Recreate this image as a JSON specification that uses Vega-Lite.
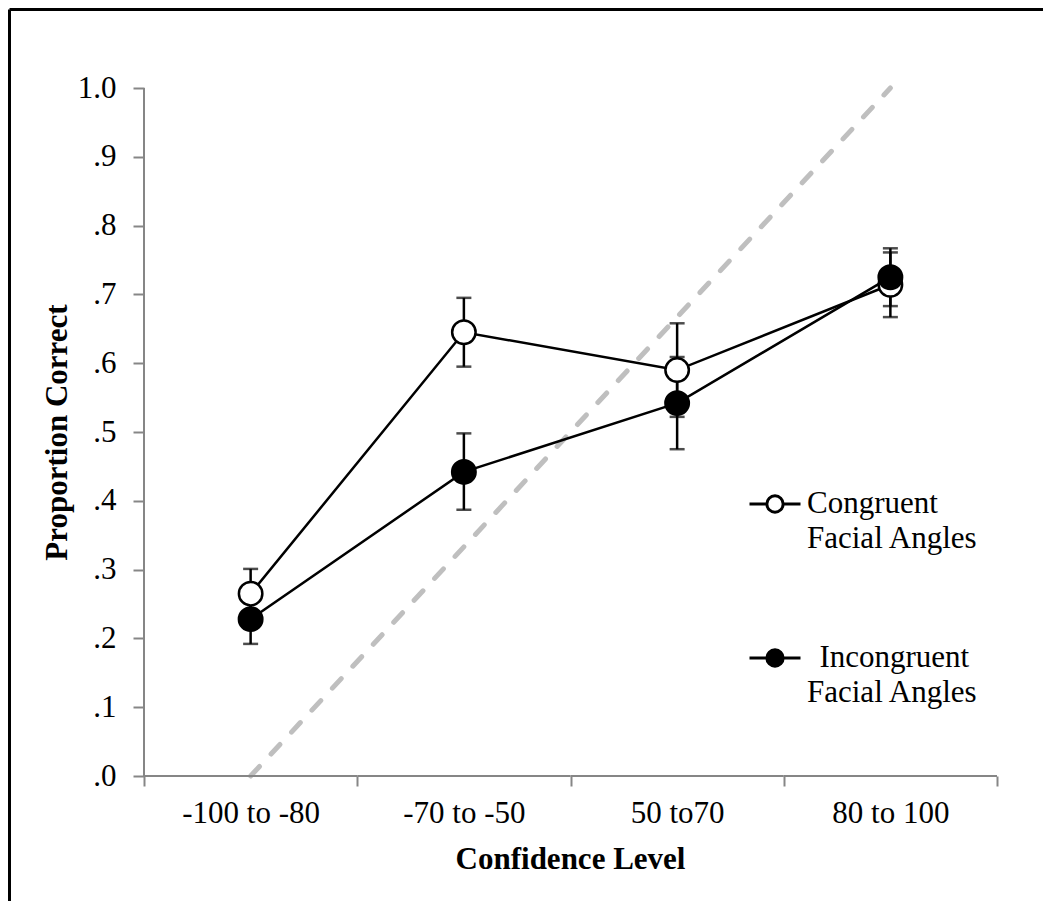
{
  "$schema": "https://vega.github.io/schema/vega-lite/v6.json",
  "width": 1034,
  "height": 892,
  "autosize": {"type": "none"},
  "padding": {"left": 9, "top": 9, "right": 0, "bottom": 0},
  "background": "white",
  "config": {"view": {"stroke": null}, "axis": {"grid": false}, "style": {"guide-label": {"lineHeight": 35}}},
  "datasets": {
    "diag": [
      {"cat": "-100 to -80", "value": 0},
      {"cat": "-70 to -50", "value": 0.333},
      {"cat": "50 to70", "value": 0.667},
      {"cat": "80 to 100", "value": 1}
    ],
    "first": [{"cat": "-100 to -80"}],
    "main": [
      {"series": "Congruent", "cat": "-100 to -80", "mean": 0.265, "lo": 0.229, "hi": 0.301},
      {"series": "Congruent", "cat": "-70 to -50", "mean": 0.645, "lo": 0.595, "hi": 0.695},
      {"series": "Congruent", "cat": "50 to70", "mean": 0.590, "lo": 0.522, "hi": 0.658},
      {"series": "Congruent", "cat": "80 to 100", "mean": 0.714, "lo": 0.667, "hi": 0.761},
      {"series": "Incongruent", "cat": "-100 to -80", "mean": 0.228, "lo": 0.192, "hi": 0.264},
      {"series": "Incongruent", "cat": "-70 to -50", "mean": 0.442, "lo": 0.387, "hi": 0.498},
      {"series": "Incongruent", "cat": "50 to70", "mean": 0.542, "lo": 0.475, "hi": 0.609},
      {"series": "Incongruent", "cat": "80 to 100", "mean": 0.725, "lo": 0.683, "hi": 0.767}
    ]
  },
  "layer": [
    {
      "data": {"name": "diag"},
      "mark": {"type": "line", "color": "#bfbfbf", "strokeWidth": 5, "strokeDash": [13, 17], "strokeCap": "round"},
      "encoding": {
        "x": {
          "field": "cat", "type": "nominal",
          "scale": {"type": "band", "domain": ["-100 to -80", "-70 to -50", "50 to70", "80 to 100"], "paddingInner": 0, "paddingOuter": 0.424385, "align": 0.74586},
          "axis": {
            "orient": "bottom", "offset": -125, "domain": false, "tickBand": "extent",
            "tickSize": 10, "tickWidth": 2, "tickColor": "#868686",
            "labelAngle": 0, "labelFont": "Liberation Serif", "labelFontSize": 31, "labelColor": "black", "labelPadding": 12,
            "title": "Confidence Level", "titleFont": "Liberation Serif", "titleFontSize": 31, "titleFontWeight": "bold", "titleColor": "black",
            "titleX": 561, "titleY": 92, "titleAlign": "center", "titleBaseline": "alphabetic"
          }
        },
        "y": {
          "field": "value", "type": "quantitative",
          "scale": {"domain": [-0.181686, 1.114826], "nice": false, "zero": false},
          "axis": {
            "orient": "left", "offset": -135, "domain": false,
            "values": [0, 0.1, 0.2, 0.3, 0.4, 0.5, 0.6, 0.7, 0.8, 0.9, 1.0],
            "tickSize": 11, "tickWidth": 2, "tickColor": "#868686",
            "labelFont": "Liberation Serif", "labelFontSize": 31, "labelColor": "black", "labelPadding": 17,
            "labelExpr": "datum.value >= 0.99 ? '1.0' : replace(format(datum.value, '.1f'), '0.', '.')",
            "title": "Proportion Correct", "titleFont": "Liberation Serif", "titleFontSize": 31, "titleFontWeight": "bold", "titleColor": "black",
            "titleAngle": -90, "titleX": -78, "titleY": 423, "titleAlign": "center", "titleBaseline": "alphabetic"
          }
        }
      }
    },
    {
      "data": {"name": "diag"},
      "mark": {"type": "rect", "fill": "#868686", "stroke": "#868686", "strokeWidth": 2},
      "encoding": {
        "x": {"field": "cat", "type": "nominal", "axis": {"orient": "top", "offset": 0, "domain": true, "domainColor": "black", "domainWidth": 3, "ticks": false, "labels": false, "title": null}},
        "y": {"datum": 0, "type": "quantitative", "axis": null},
        "y2": {"datum": 0}
      }
    },
    {
      "data": {"name": "first"},
      "mark": {"type": "rule", "color": "#868686", "strokeWidth": 2},
      "encoding": {
        "x": {"field": "cat", "type": "nominal", "bandPosition": 0, "axis": null},
        "y": {"datum": 0, "type": "quantitative", "axis": null},
        "y2": {"datum": 1}
      }
    },
    {
      "data": {"name": "main"},
      "mark": {"type": "errorbar", "color": "black", "thickness": 2.5, "ticks": {"size": 15, "thickness": 2.5, "color": "black"}},
      "encoding": {
        "x": {"field": "cat", "type": "nominal", "axis": null},
        "y": {"field": "lo", "type": "quantitative", "axis": null, "title": null},
        "y2": {"field": "hi"}
      }
    },
    {
      "data": {"name": "main"},
      "mark": {"type": "line", "color": "black", "strokeWidth": 2.5},
      "encoding": {
        "x": {"field": "cat", "type": "nominal", "axis": null},
        "y": {"field": "mean", "type": "quantitative", "axis": null},
        "detail": {"field": "series"}
      }
    },
    {
      "data": {"name": "main"},
      "mark": {"type": "point", "shape": "circle", "filled": true, "size": 550, "stroke": "black", "strokeWidth": 2.5, "opacity": 1},
      "encoding": {
        "x": {"field": "cat", "type": "nominal", "axis": null},
        "y": {"field": "mean", "type": "quantitative", "axis": {"orient": "right", "offset": -1034, "domain": true, "domainColor": "black", "domainWidth": 3, "ticks": false, "labels": false, "title": null}},
        "fill": {
          "field": "series", "type": "nominal",
          "scale": {"domain": ["Congruent", "Incongruent"], "range": ["white", "black"]},
          "legend": {
            "orient": "none", "legendX": 739, "legendY": 468, "title": null, "padding": 0,
            "symbolType": "M-1,0H-0.32M0.32,0H1M0.32,0A0.32,0.32 0 1 1 -0.32,0A0.32,0.32 0 1 1 0.32,0Z",
            "symbolSize": 2601, "symbolStrokeColor": "black", "symbolStrokeWidth": 3, "symbolOpacity": 1,
            "labelFont": "Liberation Serif", "labelFontSize": 31, "labelColor": "black", "labelOffset": 5, "labelLimit": 600,
            "labelBaseline": "middle", "rowPadding": 77,
            "labelExpr": "datum.label == 'Congruent' ? ['Congruent', 'Facial Angles'] : ['\u200b\u2009\u2009Incongruent', 'Facial Angles']"
          }
        }
      }
    }
  ]
}
